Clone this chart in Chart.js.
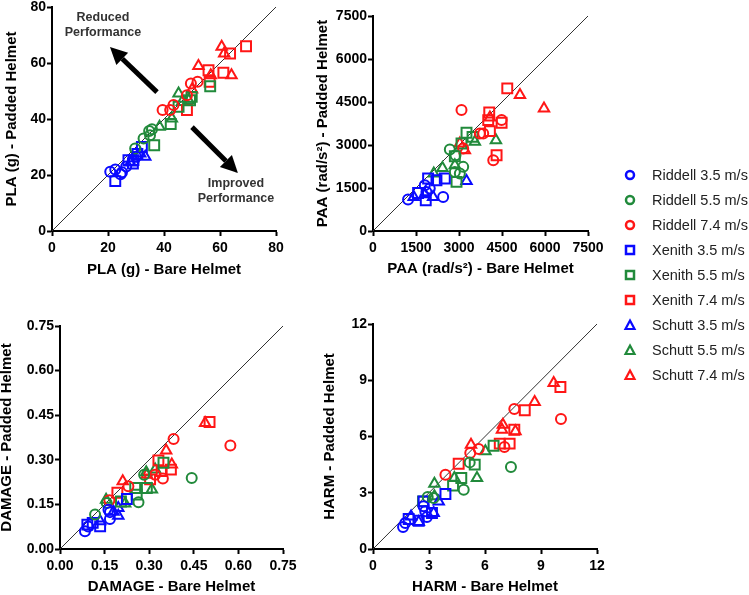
<!DOCTYPE html>
<html>
<head>
<meta charset="utf-8">
<script src="https://cdn.jsdelivr.net/npm/chart.js@4.4.1/dist/chart.umd.min.js"></script>
<style>
  html, body { margin: 0; padding: 0; background: #fff; overflow: hidden; }
  body { width: 749px; height: 595px; position: relative; font-family: "Liberation Sans", Arial, sans-serif; }
  canvas { position: absolute; }
  #legend { position: absolute; left: 618px; top: 162px; z-index: 5; }
  .row { height: 25px; display: flex; align-items: center; font-size: 14.5px; color: #222; }
  .row svg { width: 24px; height: 14px; margin-right: 10px; }
</style>
</head>
<body>
<canvas id="pla"></canvas>
<canvas id="paa"></canvas>
<canvas id="damage"></canvas>
<canvas id="harm"></canvas>
<div id="legend"></div>
<script>
// series order: Riddell, Xenith, Schutt at 3.5 / 5.5 / 7.4 m/s
const seriesLabels = ['Riddell 3.5 m/s', 'Riddell 5.5 m/s', 'Riddell 7.4 m/s',
                      'Xenith 3.5 m/s', 'Xenith 5.5 m/s', 'Xenith 7.4 m/s',
                      'Schutt 3.5 m/s', 'Schutt 5.5 m/s', 'Schutt 7.4 m/s'];

// [bare helmet, padded helmet]
const plaRiddell35 = [[20.8,21.2],[22.6,22.0],[24.5,20.3],[25.0,21.0],[26.5,23.0],[30.0,26.5]];
const plaRiddell55 = [[29.7,29.5],[32.7,33.0],[34.7,35.7],[35.7,36.3],[35.0,34.2]];
const plaRiddell74 = [[39.5,43.2],[42.2,43.2],[43.4,45.0],[48.2,48.5],[49.6,52.7],[52.0,53.3]];
const plaXenith35  = [[22.6,17.8],[27.3,25.3],[28.9,24.1],[29.1,25.3],[32.1,30.0],[30.5,27.5]];
const plaXenith55  = [[36.5,30.6],[42.4,38.2],[45.2,44.4],[49.3,46.7],[49.9,47.9],[56.5,51.7]];
const plaXenith74  = [[48.2,43.2],[55.9,57.4],[56.3,53.3],[61.2,56.5],[63.6,63.4],[69.3,66.0]];
const plaSchutt35  = [[33.3,26.5],[31.5,27.7],[29.0,26.0],[28.0,24.5]];
const plaSchutt55  = [[38.4,37.2],[42.8,40.2],[45.2,49.1],[46.4,46.1],[48.8,46.7]];
const plaSchutt74  = [[52.3,58.9],[56.7,55.6],[60.6,65.8],[61.5,63.4],[64.1,55.6],[50.0,50.5]];

const paaRiddell35 = [[1223,1095],[1806,1596],[1980,1480],[2447,1188],[1864,1363]];
const paaRiddell55 = [[2680,2843],[3146,2237],[2855,2062],[3029,2004],[2878,2645]];
const paaRiddell74 = [[3087,4218],[4195,2470],[3728,3402],[3845,3402],[4486,3868],[3146,2878]];
const paaXenith35  = [[1922,1829],[1840,1072],[2214,1770],[2505,1829],[1573,1328]];
const paaXenith55  = [[2913,1713],[3262,3425],[3472,3285],[3087,3052],[2855,2610]];
const paaXenith74  = [[4055,4136],[4684,4975],[4311,2645],[4020,3868],[4078,3484],[4486,3776]];
const paaSchutt35  = [[1421,1188],[2097,1188],[3262,1748],[1806,1282]];
const paaSchutt55  = [[2120,2004],[2423,2202],[2855,2295],[3553,3111],[4288,3169]];
const paaSchutt74  = [[5127,4742],[5965,4276],[3204,2820],[4078,3962],[3029,3052]];

const damRiddell35 = [[0.084,0.060],[0.095,0.076],[0.168,0.101],[0.163,0.132],[0.168,0.124]];
const damRiddell55 = [[0.118,0.116],[0.264,0.157],[0.443,0.239],[0.283,0.250],[0.157,0.155]];
const damRiddell74 = [[0.166,0.164],[0.230,0.211],[0.382,0.370],[0.573,0.348],[0.346,0.237],[0.320,0.250]];
const damXenith35  = [[0.092,0.082],[0.135,0.076],[0.225,0.168],[0.110,0.088]];
const damXenith55  = [[0.292,0.205],[0.253,0.205],[0.258,0.183],[0.348,0.290],[0.205,0.160]];
const damXenith74  = [[0.193,0.189],[0.331,0.298],[0.303,0.234],[0.342,0.262],[0.373,0.267],[0.503,0.427]];
const damSchutt35  = [[0.135,0.093],[0.196,0.112],[0.196,0.138],[0.180,0.125]];
const damSchutt55  = [[0.155,0.166],[0.219,0.153],[0.309,0.200],[0.290,0.258],[0.320,0.267]];
const damSchutt74  = [[0.211,0.228],[0.357,0.331],[0.376,0.284],[0.488,0.424],[0.292,0.250]];

const harmRiddell35 = [[1.61,1.17],[1.73,1.39],[2.71,2.28],[2.89,1.71],[2.80,2.01]];
const harmRiddell55 = [[4.86,3.16],[5.18,4.62],[7.39,4.37],[2.93,2.77],[3.25,2.72]];
const harmRiddell74 = [[3.88,3.96],[5.21,5.12],[5.66,5.33],[7.04,5.44],[7.57,7.47],[10.07,6.93]];
const harmXenith35  = [[1.91,1.60],[2.45,1.51],[3.88,2.93],[3.16,1.92],[2.71,2.54]];
const harmXenith55  = [[2.68,2.54],[4.29,3.38],[4.73,3.79],[5.45,4.50],[6.46,5.51]];
const harmXenith74  = [[4.59,4.55],[6.79,5.62],[7.32,5.62],[7.57,6.36],[8.13,7.40],[10.04,8.64]];
const harmSchutt35  = [[2.04,1.74],[2.45,1.44],[3.52,2.54],[3.25,1.92]];
const harmSchutt55  = [[3.29,3.48],[4.36,3.79],[5.57,3.79],[6.02,5.21],[3.29,2.81]];
const harmSchutt74  = [[5.25,5.56],[6.91,6.36],[6.96,6.63],[7.63,6.28],[8.66,7.84],[9.68,8.85]];

const speedColors = ['#0a0aff', '#218a3b', '#ff1616'];
const helmetShapes = ['circle', 'rect', 'triangle'];
const helmetRadius = [5, 7, 6];

Chart.defaults.font.family = '"Liberation Sans", Arial, sans-serif';
Chart.defaults.color = '#000';

// annotation arrows on the PLA panel (data coordinates)
const arrows = [
  { from: [37.5, 49.6], to: [20.7, 65.7] },
  { from: [50.0, 37.1], to: [66.4, 20.7] }
];
const notes = [
  { at: [18.2, 76.1], lines: ['Reduced', 'Performance'] },
  { at: [65.7, 17.1], lines: ['Improved', 'Performance'] }
];

const arrowPlugin = {
  id: 'arrows',
  afterDatasetsDraw(chart) {
    const { ctx, scales: { x, y } } = chart;
    ctx.save();
    ctx.fillStyle = '#000';
    ctx.strokeStyle = '#000';
    arrows.forEach(a => {
      const x0 = x.getPixelForValue(a.from[0]), y0 = y.getPixelForValue(a.from[1]);
      const x1 = x.getPixelForValue(a.to[0]), y1 = y.getPixelForValue(a.to[1]);
      const ang = Math.atan2(y1 - y0, x1 - x0);
      const headLen = 17, headW = 8.5;
      const bx = x1 - headLen * Math.cos(ang), by = y1 - headLen * Math.sin(ang);
      ctx.lineWidth = 5;
      ctx.beginPath(); ctx.moveTo(x0, y0); ctx.lineTo(bx, by); ctx.stroke();
      ctx.beginPath();
      ctx.moveTo(x1, y1);
      ctx.lineTo(bx + headW * Math.sin(ang), by - headW * Math.cos(ang));
      ctx.lineTo(bx - headW * Math.sin(ang), by + headW * Math.cos(ang));
      ctx.closePath();
      ctx.fill();
    });
    ctx.font = 'bold 12.5px "Liberation Sans", Arial, sans-serif';
    ctx.fillStyle = '#333';
    ctx.textAlign = 'center';
    ctx.textBaseline = 'middle';
    notes.forEach(n => {
      const px = x.getPixelForValue(n.at[0]), py = y.getPixelForValue(n.at[1]);
      n.lines.forEach((t, i) => ctx.fillText(t, px, py + i * 15));
    });
    ctx.restore();
  }
};

function axis(max, step, fmt, title, titlePad, tickPad) {
  return {
    type: 'linear', min: 0, max: max,
    ticks: { stepSize: step, color: '#000', font: { size: 14, weight: 'bold' },
             callback: fmt, padding: tickPad, maxRotation: 0, autoSkip: false },
    grid: { drawOnChartArea: false, drawTicks: true, tickLength: 5, tickWidth: 2, tickColor: '#000' },
    border: { color: '#000', width: 2 },
    title: { display: true, text: title, color: '#000', font: { size: 15, weight: 'bold' }, padding: titlePad }
  };
}

// box = canvas rect in page px, area = wanted plot rect in page px
function makePanel(id, box, area, cfg) {
  const cv = document.getElementById(id);
  cv.width = box.w; cv.height = box.h;
  cv.style.left = box.x + 'px';
  cv.style.top = box.y + 'px';
  const half = 9; // half of title line height

  const datasets = [{
    data: [{ x: 0, y: 0 }, { x: cfg.max, y: cfg.max }],
    showLine: true, borderColor: '#333', borderWidth: 1, pointRadius: 0, order: 1
  }];
  cfg.series.forEach((pts, i) => {
    const helmet = Math.floor(i / 3), speed = i % 3;
    datasets.push({
      label: seriesLabels[i],
      data: pts.map(p => ({ x: p[0], y: p[1] })),
      pointStyle: helmetShapes[helmet],
      pointRadius: helmetRadius[helmet],
      borderColor: speedColors[speed],
      backgroundColor: 'rgba(0,0,0,0)',
      borderWidth: 2,
      order: 0,
      clip: false
    });
  });

  const xAxis = axis(cfg.max, cfg.step, cfg.fmt, cfg.xTitle,
                     { top: 0, bottom: box.y + box.h - cfg.xTitleY - half }, 4);
  xAxis.afterFit = s => { s.height = box.y + box.h - area.b; };
  const yAxis = axis(cfg.max, cfg.step, cfg.fmt, cfg.yTitle,
                     { top: cfg.yTitleX - box.x - half, bottom: 0 }, 1);
  yAxis.afterFit = s => { s.width = area.l - box.x; };

  return new Chart(cv, {
    type: 'scatter',
    data: { datasets },
    options: {
      responsive: false, animation: false, devicePixelRatio: 1,
      layout: { padding: { left: 0, top: area.t - box.y, right: box.x + box.w - area.r, bottom: 0 } },
      plugins: { legend: { display: false }, tooltip: { enabled: false } },
      scales: { x: xAxis, y: yAxis }
    },
    plugins: cfg.plugins || []
  });
}

const intFmt = v => String(v);

makePanel('pla', { x: -10, y: -10, w: 320, h: 300 }, { l: 52, t: 7, r: 276, b: 231 }, {
  max: 80, step: 20, fmt: intFmt,
  xTitle: 'PLA (g) - Bare Helmet', yTitle: 'PLA (g) - Padded Helmet', xTitleY: 270, yTitleX: 12,
  series: [plaRiddell35, plaRiddell55, plaRiddell74, plaXenith35, plaXenith55, plaXenith74,
           plaSchutt35, plaSchutt55, plaSchutt74],
  plugins: [arrowPlugin]
});

makePanel('paa', { x: 290, y: -10, w: 330, h: 300 }, { l: 373, t: 16, r: 588, b: 231 }, {
  max: 7500, step: 1500, fmt: intFmt,
  xTitle: 'PAA (rad/s²) - Bare Helmet', yTitle: 'PAA (rad/s²) - Padded Helmet', xTitleY: 269, yTitleX: 323,
  series: [paaRiddell35, paaRiddell55, paaRiddell74, paaXenith35, paaXenith55, paaXenith74,
           paaSchutt35, paaSchutt55, paaSchutt74]
});

makePanel('damage', { x: -10, y: 280, w: 320, h: 320 }, { l: 60, t: 326, r: 283, b: 549 }, {
  max: 0.75, step: 0.15, fmt: v => Number(v).toFixed(2),
  xTitle: 'DAMAGE - Bare Helmet', yTitle: 'DAMAGE - Padded Helmet', xTitleY: 587, yTitleX: 7,
  series: [damRiddell35, damRiddell55, damRiddell74, damXenith35, damXenith55, damXenith74,
           damSchutt35, damSchutt55, damSchutt74]
});

makePanel('harm', { x: 290, y: 280, w: 340, h: 320 }, { l: 373, t: 324, r: 597, b: 549 }, {
  max: 12, step: 3, fmt: intFmt,
  xTitle: 'HARM - Bare Helmet', yTitle: 'HARM - Padded Helmet', xTitleY: 587, yTitleX: 330,
  series: [harmRiddell35, harmRiddell55, harmRiddell74, harmXenith35, harmXenith55, harmXenith74,
           harmSchutt35, harmSchutt55, harmSchutt74]
});

// legend
const legend = document.getElementById('legend');
seriesLabels.forEach((label, i) => {
  const c = speedColors[i % 3];
  const shape = helmetShapes[Math.floor(i / 3)];
  let mark;
  if (shape === 'circle') mark = `<circle cx="12" cy="7" r="4" fill="none" stroke="${c}" stroke-width="2.5"/>`;
  else if (shape === 'rect') mark = `<rect x="8" y="3" width="8" height="8" fill="none" stroke="${c}" stroke-width="2.5"/>`;
  else mark = `<polygon points="12,2.5 16.5,11 7.5,11" fill="none" stroke="${c}" stroke-width="2.2"/>`;
  const row = document.createElement('div');
  row.className = 'row';
  row.innerHTML = `<svg viewBox="0 0 24 14">${mark}</svg><span>${label}</span>`;
  legend.appendChild(row);
});
</script>
</body>
</html>
